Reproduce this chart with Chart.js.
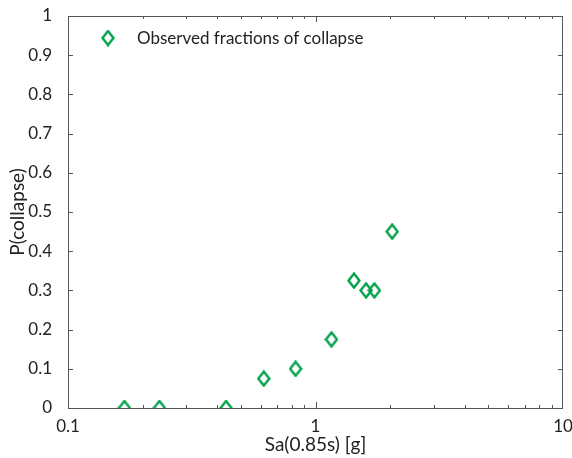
<!DOCTYPE html>
<html>
<head>
<meta charset="utf-8">
<script src="https://cdn.jsdelivr.net/npm/chart.js@4"></script>
<style>
  html, body { margin: 0; padding: 0; background: #fff; }
  #wrap { width: 572px; height: 458px; }
</style>
</head>
<body>
<div id="wrap"><canvas id="chart" width="572" height="458"></canvas></div>
<script>
// Observed collapse fractions vs spectral acceleration
const saValues = [0.169, 0.234, 0.435, 0.618, 0.831, 1.16, 1.43, 1.60, 1.73, 2.04];
const collapseFractions = [0, 0, 0, 0.075, 0.1, 0.175, 0.325, 0.3, 0.3, 0.45];
const seriesLabel = 'Observed fractions of collapse';
const xTickLabels = [0.1, 1, 10];

const green = '#00a14b';
const axisColor = '#555';
const textColor = '#222';
const fontFamily = 'Lato, "Open Sans", sans-serif';

// diamond marker, a bit taller than wide
function makeDiamond() {
  const c = document.createElement('canvas');
  c.width = 14; c.height = 17;
  const g = c.getContext('2d');
  g.strokeStyle = green;
  g.lineWidth = 2.4;
  g.beginPath();
  g.moveTo(7, 1.5); g.lineTo(12.5, 8.5); g.lineTo(7, 15.5); g.lineTo(1.5, 8.5); g.closePath();
  g.stroke();
  return c;
}
const diamond = makeDiamond();

// box + inward ticks on all four sides, and the legend entry
const framePlugin = {
  id: 'frame',
  afterDraw(chart) {
    const { ctx, chartArea: a, scales } = chart;
    ctx.save();
    ctx.strokeStyle = axisColor;
    ctx.lineWidth = 1;
    ctx.strokeRect(a.left + 0.5, a.top + 0.5, a.right - a.left - 1, a.bottom - a.top);

    ctx.beginPath();
    // y ticks
    for (let i = 1; i < 10; i++) {
      const y = Math.round(scales.y.getPixelForValue(i / 10)) + 0.5;
      ctx.moveTo(a.left, y); ctx.lineTo(a.left + 5, y);
      ctx.moveTo(a.right, y); ctx.lineTo(a.right - 5, y);
    }
    // x ticks (log, major + minor)
    for (let d = 0.1; d < 10; d *= 10) {
      for (let m = 1; m <= 9; m++) {
        const v = d * m;
        const x = Math.round(scales.x.getPixelForValue(v)) + 0.5;
        const len = m === 1 ? 6 : 3;
        ctx.moveTo(x, a.bottom); ctx.lineTo(x, a.bottom - len);
        ctx.moveTo(x, a.top); ctx.lineTo(x, a.top + len);
      }
    }
    ctx.stroke();

    // legend
    const lx = a.left + 40, ly = a.top + 22;
    ctx.drawImage(diamond, lx - 7, ly - 8.5);
    ctx.fillStyle = textColor;
    ctx.font = '17px ' + fontFamily;
    ctx.textBaseline = 'middle';
    ctx.fillText(chart.data.datasets[0].label, lx + 29, ly + 1);
    ctx.restore();
  }
};

const ctx = document.getElementById('chart').getContext('2d');
const myChart = new Chart(ctx, {
  type: 'scatter',
  data: {
    datasets: [{
      label: seriesLabel,
      data: saValues.map((x, i) => ({ x: x, y: collapseFractions[i] })),
      pointStyle: diamond,
      pointRadius: 7,
      showLine: false
    }]
  },
  options: {
    responsive: false,
    animation: false,
    layout: { padding: { top: 16, right: 9, left: 0, bottom: 0 } },
    plugins: {
      legend: { display: false },
      tooltip: { enabled: false }
    },
    scales: {
      x: {
        type: 'logarithmic',
        min: 0.1,
        max: 10,
        grid: { display: false },
        border: { display: false },
        afterFit(scale) {
          scale.height = 50;
          scale.paddingLeft = 0;
          scale.paddingRight = 0;
        },
        afterBuildTicks(scale) {
          scale.ticks = xTickLabels.map(v => ({ value: v }));
        },
        ticks: {
          autoSkip: false,
          maxRotation: 0,
          padding: 0,
          color: textColor,
          font: { size: 17, family: fontFamily },
          callback: v => String(v)
        },
        title: {
          display: true,
          text: 'Sa(0.85s) [g]',
          color: textColor,
          font: { size: 19, family: fontFamily },
          padding: { top: 0, bottom: 2 }
        }
      },
      y: {
        min: 0,
        max: 1,
        grid: { display: false },
        border: { display: false },
        afterFit(scale) {
          scale.width = 68;
          scale.paddingTop = 0;
          scale.paddingBottom = 0;
        },
        ticks: {
          stepSize: 0.1,
          padding: 8,
          color: textColor,
          font: { size: 17, family: fontFamily },
          callback: v => String(Number(v.toFixed(1)))
        },
        title: {
          display: true,
          text: 'P(collapse)',
          color: textColor,
          font: { size: 19, family: fontFamily },
          padding: { top: 6, bottom: 0 }
        }
      }
    }
  },
  plugins: [framePlugin]
});
</script>
</body>
</html>
